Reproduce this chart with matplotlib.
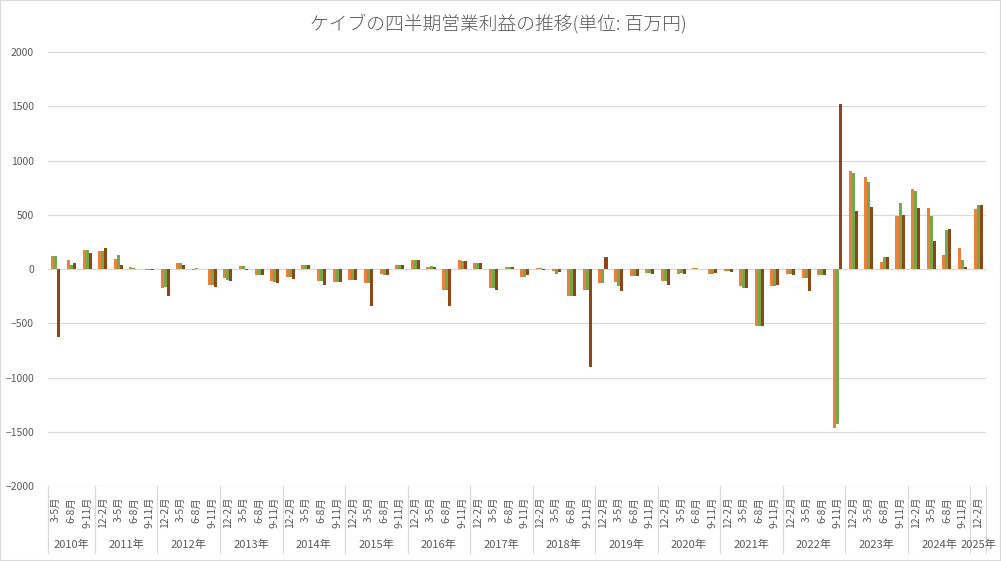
import matplotlib
matplotlib.use("Agg")
import matplotlib.pyplot as plt
import matplotlib.transforms as mtransforms
from matplotlib.patches import Rectangle
import numpy as np

plt.rcParams['font.family'] = ['Noto Sans CJK JP', 'DejaVu Sans']

years = ['2010年', '2011年', '2012年', '2013年', '2014年', '2015年', '2016年', '2017年',
         '2018年', '2019年', '2020年', '2021年', '2022年', '2023年', '2024年', '2025年']
year_counts = [3] + [4] * 14 + [1]
quarters = (['3-5月', '6-8月', '9-11月'] + ['12-2月', '3-5月', '6-8月', '9-11月'] * 14 + ['12-2月'])

series_names = ['営業利益', '経常利益', '純利益']
orange_vals = [117, 80, 179, 170, 96, 22, -12, -179, 59, -12, -151, -86, 31, -59, -108,
               -77, 40, -108, -123, -99, -133, -49, 40, 86, 15, -191, 86, 52, -173, 19,
               -77, 9, -22, -247, -197, -133, -123, -68, -40, -114, -46, 9, -49, -22, -160,
               -521, -160, -49, -86, -59, -1466, 903, 850, 64, 491, 737, 562, 129, 193, 553]
green_vals = [117, 34, 179, 170, 133, 12, -12, -170, 59, 9, -151, -99, 31, -59, -117,
              -77, 40, -108, -123, -99, -133, -59, 40, 86, 31, -191, 77, 52, -173, 19,
              -77, 9, -49, -247, -197, -133, -160, -68, -40, -114, -37, 9, -49, -22, -179,
              -521, -160, -49, -86, -59, -1429, 884, 801, 111, 608, 718, 491, 359, 83, 589]
brown_vals = [-623, 52, 145, 197, 40, 0, -12, -247, 40, 2, -170, -108, -12, -59, -133,
              -89, 40, -151, -123, -99, -339, -59, 40, 86, 22, -339, 77, 52, -191, 15,
              -59, -9, -31, -247, -901, 114, -207, -68, -49, -151, -49, 3, -37, -31, -179,
              -521, -151, -59, -207, -59, 1520, 534, 574, 111, 497, 562, 258, 368, 18, 589]

colors = ['#EB7F3B', '#72A94A', '#8E4616']
title = 'ケイブの四半期営業利益の推移(単位: 百万円)'
text_color = '#595959'
grid_color = '#D9D9D9'

W, H = 1001, 561
fig = plt.figure(figsize=(W / 100, H / 100), dpi=100)
left, right, top, bottom = 48, 986, 52, 486
ax = fig.add_axes([left / W, 1 - bottom / H, (right - left) / W, (bottom - top) / H])

n = len(quarters)
x = np.arange(n)
bw = 1 / (3 + 2.19)
for i, (vals, c, name) in enumerate(zip([orange_vals, green_vals, brown_vals], colors, series_names)):
    ax.bar(x + (i - 1) * bw, vals, width=bw, color=c, label=name, zorder=3, linewidth=0)

ax.set_xlim(-0.5, n - 0.5)
ax.set_ylim(-2000, 2000)
ax.set_yticks(np.arange(-2000, 2001, 500))
ax.tick_params(axis='y', length=0, labelsize=7.5, labelcolor=text_color, pad=10)
ax.set_xticks([])
for s in ax.spines.values():
    s.set_visible(False)
for yv in np.arange(-2000, 2001, 500):
    ax.axhline(yv, color=grid_color, lw=0.9, zorder=1)

trans = mtransforms.blended_transform_factory(ax.transData, ax.transAxes)
ph = bottom - top
for i, q in enumerate(quarters):
    ax.text(i, -11 / ph, q, rotation=90, ha='center', va='top', fontsize=7.5,
            color=text_color, transform=trans)

bounds = [-0.5]
for cnt in year_counts:
    bounds.append(bounds[-1] + cnt)
for b in bounds:
    ax.plot([b, b], [0, -67 / ph], color=grid_color, lw=0.9, transform=trans, clip_on=False)
for j, yr in enumerate(years):
    cx = (bounds[j] + bounds[j + 1]) / 2
    ax.text(cx, -59 / ph, yr, ha='center', va='center', fontsize=8,
            color=text_color, transform=trans)

fig.text(498 / W, 1 - 24 / H, title, ha='center', va='center', fontsize=13.5,
         color=text_color, fontweight='light')

fig.patches.append(Rectangle((0, 0), 1, 1, transform=fig.transFigure, fill=False,
                             edgecolor=grid_color, lw=1.5))

fig.savefig('out.png', dpi=100)
